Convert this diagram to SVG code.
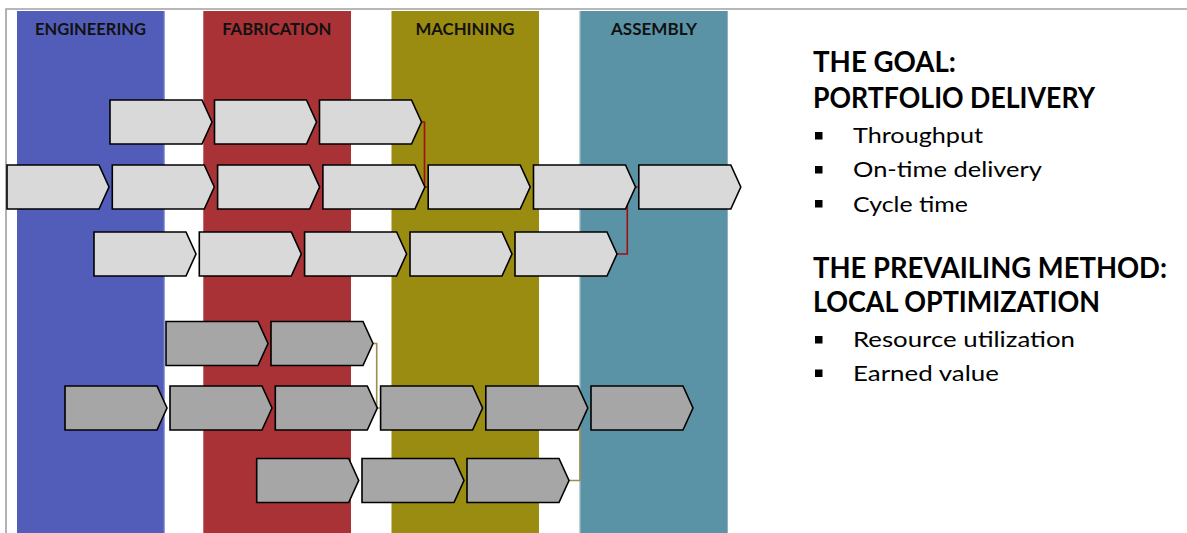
<svg xmlns="http://www.w3.org/2000/svg" xmlns:xlink="http://www.w3.org/1999/xlink" width="1187" height="533" viewBox="0 0 1187 533">
<defs>
<style>
.band-label{font-family:Lato,"Open Sans","Liberation Sans",sans-serif;font-weight:bold;font-size:17px;fill:#111;text-anchor:middle}
.head{font-family:Lato,"Open Sans","Liberation Sans",sans-serif;font-weight:bold;font-size:28px;fill:#000}
.item{font-family:Lato,"Open Sans","Liberation Sans",sans-serif;font-size:22px;fill:#000}
.light{fill:#D9D9D9;stroke:#000;stroke-width:1.6;stroke-linejoin:miter}
.dark{fill:#A6A6A6;stroke:#000;stroke-width:1.6;stroke-linejoin:miter}
.conn-red{fill:none;stroke:#A01010;stroke-width:1.6}
.conn-olive{fill:none;stroke:#9C8E4C;stroke-width:1.6}
.bullet{fill:#000}
</style>
<path id="chev" d="M0,0 H92 L102,22 L92,44 H0 Z"/>
</defs>
<rect width="1187" height="533" fill="#fff"/>
<path d="M6,533 V9 H1187" fill="none" stroke="#A0A0A0" stroke-width="1.6"/>
<g id="bands">
<g id="band-engineering"><rect x="17" y="11" width="147.5" height="522" fill="#515DB8"/><line x1="164.2" y1="11" x2="164.2" y2="533" stroke="#8F97DA" stroke-width="1"/><text class="band-label" x="90.5" y="35" textLength="111" lengthAdjust="spacingAndGlyphs">ENGINEERING</text></g>
<g id="band-fabrication"><rect x="203.3" y="11" width="147.7" height="522" fill="#A93236"/><text class="band-label" x="276.7" y="35" textLength="109" lengthAdjust="spacingAndGlyphs">FABRICATION</text></g>
<g id="band-machining"><rect x="391.5" y="11" width="147.5" height="522" fill="#9A8C10"/><text class="band-label" x="465" y="35" textLength="99" lengthAdjust="spacingAndGlyphs">MACHINING</text></g>
<g id="band-assembly"><rect x="579.7" y="11" width="148" height="522" fill="#5A93A6"/><line x1="580" y1="11" x2="580" y2="533" stroke="#A9C4CC" stroke-width="1"/><text class="band-label" x="654" y="35" textLength="86" lengthAdjust="spacingAndGlyphs">ASSEMBLY</text></g>
</g>
<g id="connectors">
<path class="conn-red" d="M421.5,122 H424.5 V187 H428.2"/>
<path class="conn-red" d="M617,254 H627.3 V187 H638.8"/>
<path class="conn-olive" d="M373,343.5 H376.7 V408 H380.6"/>
<path class="conn-olive" d="M569,480.5 H580 V408 H591"/>
</g>
<g id="light-tasks">
<g id="l1a"><use href="#chev" class="light" x="110" y="100"/></g>
<g id="l1b"><use href="#chev" class="light" x="214.5" y="100"/></g>
<g id="l1c"><use href="#chev" class="light" x="319.5" y="100"/></g>
<g id="l2a"><use href="#chev" class="light" x="7" y="165"/></g>
<g id="l2b"><use href="#chev" class="light" x="112.3" y="165"/></g>
<g id="l2c"><use href="#chev" class="light" x="217.6" y="165"/></g>
<g id="l2d"><use href="#chev" class="light" x="322.9" y="165"/></g>
<g id="l2e"><use href="#chev" class="light" x="428.2" y="165"/></g>
<g id="l2f"><use href="#chev" class="light" x="533.5" y="165"/></g>
<g id="l2g"><use href="#chev" class="light" x="638.8" y="165"/></g>
<g id="l3a"><use href="#chev" class="light" x="94" y="232"/></g>
<g id="l3b"><use href="#chev" class="light" x="199.3" y="232"/></g>
<g id="l3c"><use href="#chev" class="light" x="304.6" y="232"/></g>
<g id="l3d"><use href="#chev" class="light" x="410" y="232"/></g>
<g id="l3e"><use href="#chev" class="light" x="515" y="232"/></g>
</g>
<g id="dark-tasks">
<g id="d1a"><use href="#chev" class="dark" x="166" y="321.5"/></g>
<g id="d1b"><use href="#chev" class="dark" x="271" y="321.5"/></g>
<g id="d2a"><use href="#chev" class="dark" x="65" y="386"/></g>
<g id="d2b"><use href="#chev" class="dark" x="170" y="386"/></g>
<g id="d2c"><use href="#chev" class="dark" x="275.3" y="386"/></g>
<g id="d2d"><use href="#chev" class="dark" x="380.6" y="386"/></g>
<g id="d2e"><use href="#chev" class="dark" x="485.8" y="386"/></g>
<g id="d2f"><use href="#chev" class="dark" x="591" y="386"/></g>
<g id="d3a"><use href="#chev" class="dark" x="256.7" y="458.5"/></g>
<g id="d3b"><use href="#chev" class="dark" x="362" y="458.5"/></g>
<g id="d3c"><use href="#chev" class="dark" x="467" y="458.5"/></g>
</g>
<g id="goal-text">
<text class="head" x="813" y="71.5" textLength="143" lengthAdjust="spacingAndGlyphs">THE GOAL:</text>
<text class="head" x="813" y="108.3" textLength="282" lengthAdjust="spacingAndGlyphs">PORTFOLIO DELIVERY</text>
<rect class="bullet" x="815" y="132" width="7.5" height="7.5"/>
<text class="item" x="853" y="143.3" textLength="130" lengthAdjust="spacingAndGlyphs">Throughput</text>
<rect class="bullet" x="815" y="166" width="7.5" height="7.5"/>
<text class="item" x="853" y="177.3" textLength="189" lengthAdjust="spacingAndGlyphs">On-time delivery</text>
<rect class="bullet" x="815" y="200" width="7.5" height="7.5"/>
<text class="item" x="853" y="211.5" textLength="115" lengthAdjust="spacingAndGlyphs">Cycle time</text>
</g>
<g id="method-text">
<text class="head" x="813" y="277.7" textLength="354" lengthAdjust="spacingAndGlyphs">THE PREVAILING METHOD:</text>
<text class="head" x="813" y="311.7" textLength="287" lengthAdjust="spacingAndGlyphs">LOCAL OPTIMIZATION</text>
<rect class="bullet" x="815" y="336" width="7.5" height="7.5"/>
<text class="item" x="853" y="347" textLength="222" lengthAdjust="spacingAndGlyphs">Resource utilization</text>
<rect class="bullet" x="815" y="369.5" width="7.5" height="7.5"/>
<text class="item" x="853" y="380.5" textLength="146" lengthAdjust="spacingAndGlyphs">Earned value</text>
</g>
</svg>
